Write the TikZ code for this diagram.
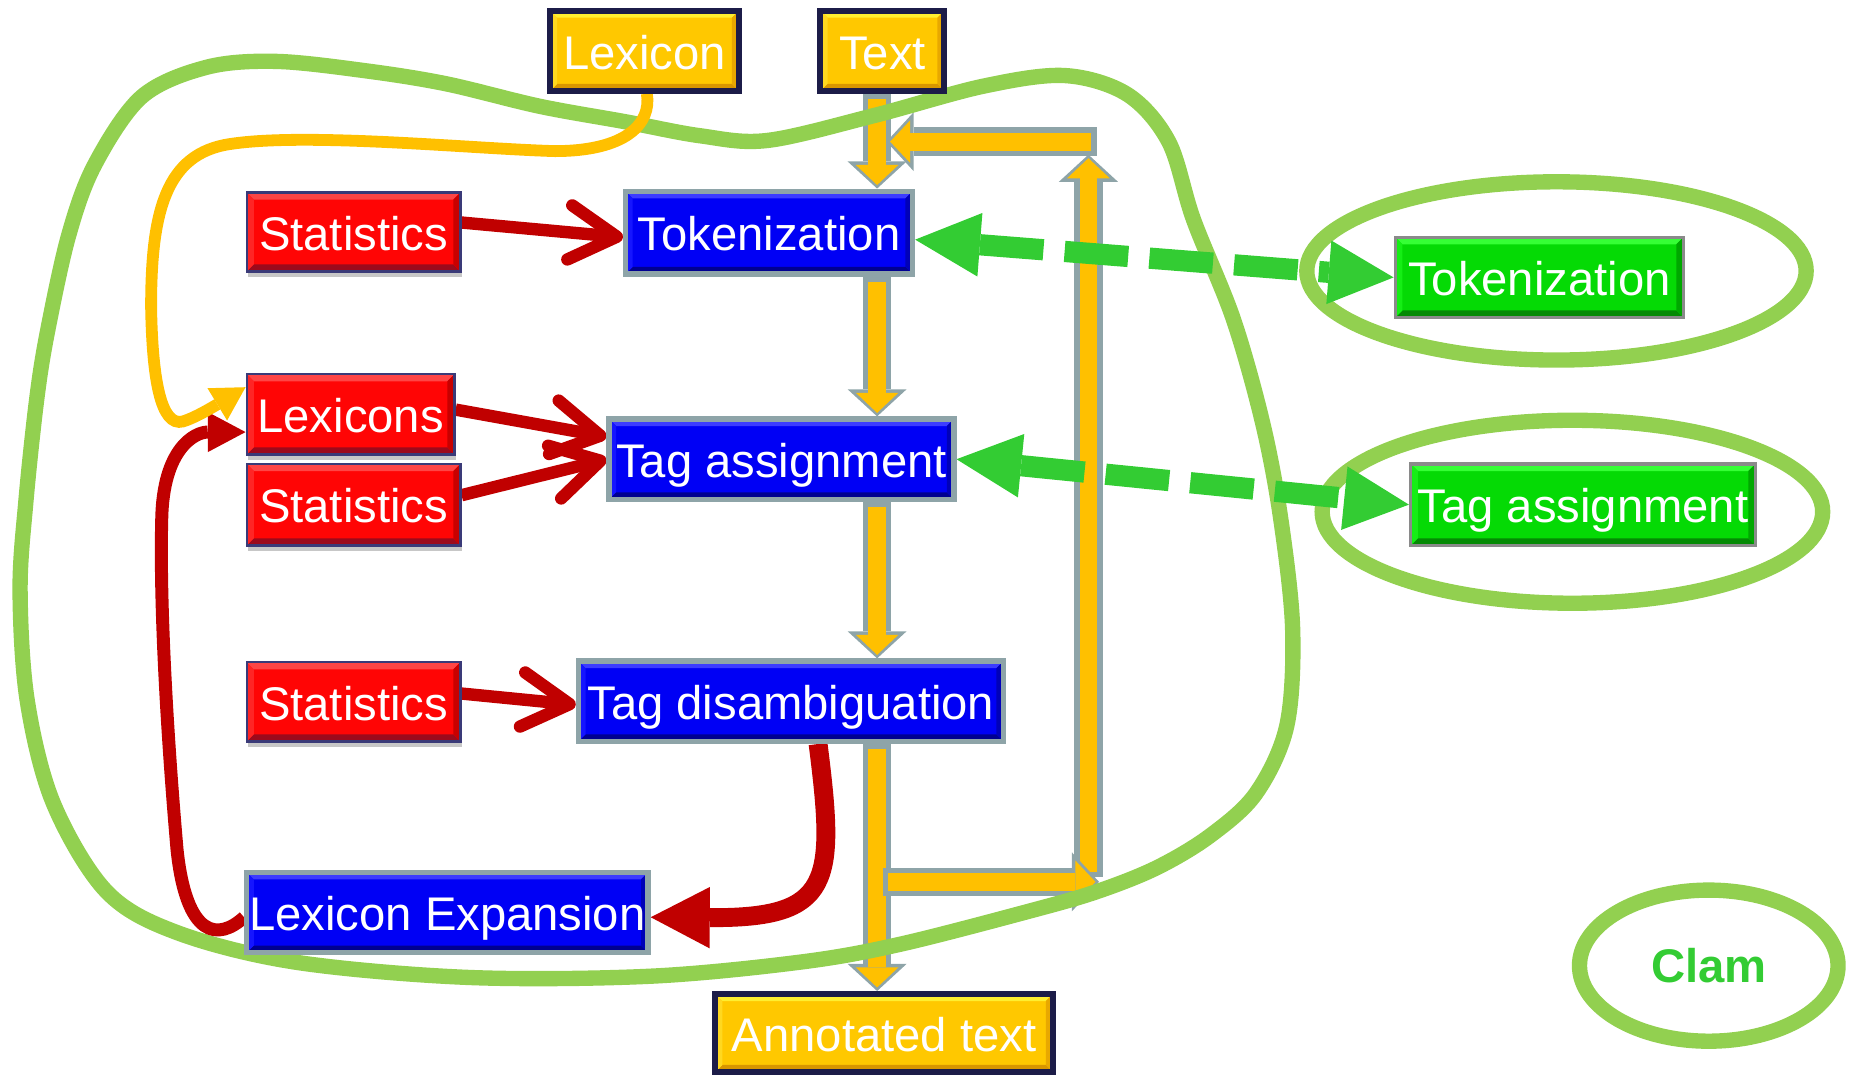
\documentclass[tikz,border=0pt]{standalone}
\usepackage{fontspec}
\setmainfont{Liberation Sans}
\usetikzlibrary{arrows.meta,backgrounds,shadows,shapes.geometric}

\definecolor{blkgold}{HTML}{FFC000}
\definecolor{blkslate}{HTML}{8EA4A8}
\definecolor{ylwfill}{HTML}{FFC800}
\definecolor{ylwtop}{HTML}{FFEE30}
\definecolor{ylwbot}{HTML}{D89600}
\definecolor{ylwleft}{HTML}{FFD820}
\definecolor{ylwright}{HTML}{E8A800}
\definecolor{ylwborder}{HTML}{1C1C48}
\definecolor{bluefill}{HTML}{0000F5}
\definecolor{bluetop}{HTML}{3C3CFF}
\definecolor{bluebot}{HTML}{000090}
\definecolor{blueleft}{HTML}{1515FF}
\definecolor{blueright}{HTML}{0000B8}
\definecolor{blueborder}{HTML}{8EA4A8}
\definecolor{redfill}{HTML}{FF0505}
\definecolor{redtop}{HTML}{FF4545}
\definecolor{redbot}{HTML}{9C0A1C}
\definecolor{redleft}{HTML}{FF2525}
\definecolor{redright}{HTML}{C80000}
\definecolor{redborder}{HTML}{3A3A78}
\definecolor{grnfill}{HTML}{05DA05}
\definecolor{grntop}{HTML}{35FF35}
\definecolor{grnbot}{HTML}{048A04}
\definecolor{grnleft}{HTML}{15EE15}
\definecolor{grnright}{HTML}{00A800}
\definecolor{grnborder}{HTML}{8A8A8A}
\definecolor{arrowred}{HTML}{C00000}
\definecolor{dashgreen}{HTML}{33CC33}
\definecolor{ringgreen}{HTML}{92D050}

\tikzset{
  bevel/.style n args={4}{path picture={
      \fill[#1] (path picture bounding box.north west) -- (path picture bounding box.north east)
        -- ([xshift=-6pt,yshift=-6pt]path picture bounding box.north east)
        -- ([xshift=6pt,yshift=-6pt]path picture bounding box.north west) -- cycle;
      \fill[#2] (path picture bounding box.south west) -- (path picture bounding box.south east)
        -- ([xshift=-6pt,yshift=6pt]path picture bounding box.south east)
        -- ([xshift=6pt,yshift=6pt]path picture bounding box.south west) -- cycle;
      \fill[#3] (path picture bounding box.north west) -- ([xshift=6pt,yshift=-6pt]path picture bounding box.north west)
        -- ([xshift=6pt,yshift=6pt]path picture bounding box.south west) -- (path picture bounding box.south west) -- cycle;
      \fill[#4] (path picture bounding box.north east) -- ([xshift=-6pt,yshift=-6pt]path picture bounding box.north east)
        -- ([xshift=-6pt,yshift=6pt]path picture bounding box.south east) -- (path picture bounding box.south east) -- cycle;
  }},
  box/.style={rectangle, inner sep=0pt, text=white, font=\fontsize{40pt}{44pt}\selectfont,
    text height=38pt, text depth=7pt},
  ybox/.style={box, fill=ylwfill, draw=ylwborder, line width=5pt, bevel={ylwtop}{ylwbot}{ylwleft}{ylwright}},
  bbox/.style={box, fill=bluefill, draw=blueborder, line width=4.5pt, bevel={bluetop}{bluebot}{blueleft}{blueright}},
  rbox/.style={box, fill=redfill, draw=redborder, line width=2pt, bevel={redtop}{redbot}{redleft}{redright},
    drop shadow={shadow xshift=1pt, shadow yshift=-5pt, fill=black, opacity=0.22}},
  gbox/.style={box, fill=grnfill, draw=grnborder, line width=3pt, bevel={grntop}{grnbot}{grnleft}{grnright}},
  ring/.style={ellipse, draw=ringgreen, line width=13pt, inner sep=0pt},
  blob/.style={draw=ringgreen, line width=13pt},
  blk/.style={draw=blkslate, line width=24pt, -{Triangle[width=50pt,length=23pt,line width=0pt]},
    postaction={draw=blkgold, line width=15pt, -{Triangle[width=36pt,length=17pt,line width=0pt]},
      shorten >=3pt, shorten <=4.5pt}},
  dsh/.style={draw=dashgreen, line width=18pt, dash pattern=on 54pt off 18pt,
    {Triangle[width=54pt,length=55pt,line width=0pt]}-{Triangle[width=54pt,length=55pt,line width=0pt]}},
  redarr/.style={draw=arrowred, line width=10.5pt, -{Straight Barb[length=40pt,width=46pt,round]}},
  redthick/.style={draw=arrowred, line width=16pt, -{Triangle[width=52pt,length=50pt,line width=0pt]}},
  redthin/.style={draw=arrowred, line width=11pt, -{Triangle[width=34pt,length=32pt,line width=0pt]}},
  ythin/.style={draw=blkgold, line width=10pt, -{Triangle[width=32pt,length=28pt,line width=0pt]}},
}

\begin{document}
\begin{tikzpicture}[x=1pt, y=-1pt]
\useasboundingbox (0,0) rectangle (1568,910);

% boxes
\node[ybox, minimum width=160pt, minimum height=68pt] (lexicon) at (546,43) {Lexicon};
\node[ybox, minimum width=105pt, minimum height=68pt] (text) at (747.5,43) {Text};
\node[rbox, minimum width=181pt, minimum height=67pt] (stat1) at (299.5,196.5) {Statistics};
\node[bbox, minimum width=243pt, minimum height=70pt] (tokB) at (651.5,197) {Tokenization};
\node[gbox, minimum width=244pt, minimum height=68pt] (tokG) at (1304,235) {Tokenization};
\node[rbox, minimum width=176pt, minimum height=68pt] (lexicons) at (297,351) {Lexicons};
\node[rbox, minimum width=181pt, minimum height=69pt] (stat2) at (299.5,427.5) {Statistics};
\node[bbox, minimum width=292pt, minimum height=68pt] (tagB) at (662,389) {Tag assignment};
\node[gbox, minimum width=292pt, minimum height=69pt] (tagG) at (1341,427.5) {Tag assignment};
\node[rbox, minimum width=181pt, minimum height=67pt] (stat3) at (299.5,594.5) {Statistics};
\node[bbox, minimum width=360pt, minimum height=68pt] (tagD) at (670,594) {Tag disambiguation};
\node[bbox, minimum width=340pt, minimum height=68pt] (lexExp) at (379,773) {Lexicon Expansion};
\node[ybox, minimum width=286pt, minimum height=66pt] (annot) at (749,875) {Annotated text};

\coordinate (spine) at (743,0);
\coordinate (loopUpBot) at (922,743);
\coordinate (loopUpTop) at (922,131);
\coordinate (loopR0) at (748,747);
\coordinate (loopR1) at (931,747);
\coordinate (loopL0) at (929,120);
\coordinate (loopL1) at (751,120);

\begin{scope}[on background layer]
  % main flow (block arrows)
  \draw[blk] (text.south -| spine) -- (tokB.north -| spine);
  \draw[blk] (tokB.south -| spine) -- (tagB.north -| spine);
  \draw[blk] (tagB.south -| spine) -- (tagD.north -| spine);
  \draw[blk] (tagD.south -| spine) -- (annot.north -| spine);
  % feedback loop
  \draw[blk] (loopUpBot) -- (loopUpTop);
  \draw[blk] (loopR0) -- (loopR1);
  \draw[blk] (loopL0) -- (loopL1);

  % big enclosing blob
  \draw[blob] plot[smooth cycle, tension=0.55] coordinates {
    (17,500) (22,424) (31,339) (40,282) (58,200) (80,140) (120,82) (175,57) (234,52)
    (310,60) (378,71) (457,90) (529,103) (593,115) (650,119) (740,98) (833,73)
    (902,64) (955,80) (990,120) (1011,186) (1045,271) (1070,360) (1085,440)
    (1095,533) (1090,615) (1064,672) (1025,708) (980,735) (930,755) (875,771) (762,800)
    (678,815) (550,827) (397,828) (250,815) (150,790) (90,755) (45,680) (23,593)};

  % rings
  \node[ring, minimum width=423pt, minimum height=151pt] (ringTok) at (1318.5,229.5) {};
  \node[ring, minimum width=424pt, minimum height=155pt] (ringTag) at (1332,433.5) {};
  \node[ring, minimum width=219pt, minimum height=128pt, text=dashgreen,
        font=\fontsize{40pt}{44pt}\bfseries\selectfont] (clam) at (1447.5,818) {Clam};

  % green dashed links
  \draw[dsh] ([yshift=-6pt]tokB.east) -- (tokG.west);
  \draw[dsh] (tagB.east) -- (tagG.west);

  % red arrows
  \draw[redarr] ([yshift=8pt]stat1.east) -- ([yshift=-4pt]tokB.west);
  \draw[redarr] ([yshift=4pt]lexicons.east) -- ([yshift=19pt]tagB.west);
  \draw[redarr] ([yshift=8pt]stat2.east) -- (tagB.west);
  \draw[redarr] ([yshift=7pt]stat3.east) -- ([yshift=-3pt]tagD.west);
  \draw[redthick] ([xshift=23pt]tagD.south) .. controls (708,748) and (705,778) .. ([yshift=-4pt]lexExp.east);
  \draw[redthin] ([yshift=-4pt]lexExp.west) .. controls (185,797) and (158,795) .. (150,720)
     .. controls (143,640) and (135,520) .. (137,440)
     .. controls (138,380) and (165,366) .. ([yshift=-15pt]lexicons.west);

  % lexicon feed
  \draw[ythin] ([xshift=2pt]lexicon.south) .. controls (552,105) and (530,128) .. (470,128)
     .. controls (400,126) and (260,112) .. (195,122)
     .. controls (140,130) and (128,180) .. (128,260)
     .. controls (129,320) and (136,362) .. (155,357)
     .. controls (165,354) and (180,345) .. ([yshift=-12pt]lexicons.north west);
\end{scope}
\end{tikzpicture}
\end{document}
